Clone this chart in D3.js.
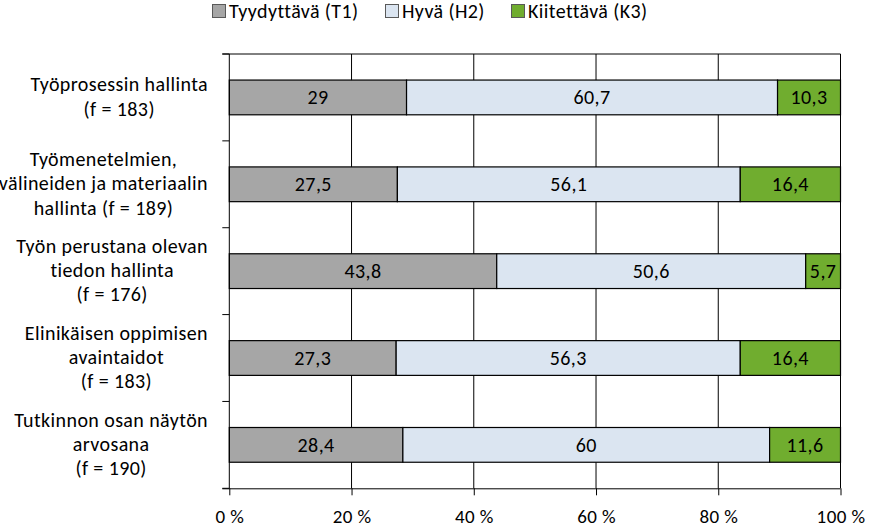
<!DOCTYPE html>
<html><head><meta charset="utf-8">
<script src="https://cdn.jsdelivr.net/npm/d3@7"></script>
<style>
body{margin:0;background:#fff}
svg{display:block}
text{font-family:Carlito, Calibri, Lato, sans-serif;fill:#000;letter-spacing:0.4px}
</style>
</head><body>
<svg id="chart" width="869" height="528"></svg>
<script>
const categories = [
  ["Työprosessin hallinta", "(f = 183)"],
  ["Työmenetelmien,", "välineiden ja materiaalin", "hallinta (f = 189)"],
  ["Työn perustana olevan", "tiedon hallinta", "(f = 176)"],
  ["Elinikäisen oppimisen", "avaintaidot", "(f = 183)"],
  ["Tutkinnon osan näytön", "arvosana", "(f = 190)"]
];
const seriesNames = ["Tyydyttävä (T1)", "Hyvä (H2)", "Kiitettävä (K3)"];
const t1 = [29, 27.5, 43.8, 27.3, 28.4];
const h2 = [60.7, 56.1, 50.6, 56.3, 60];
const k3 = [10.3, 16.4, 5.7, 16.4, 11.6];
const xTicks = [0, 20, 40, 60, 80, 100];
const colors = ["#a6a6a6", "#dbe5f1", "#70ad2f"];

const FS = 20;
const svg = d3.select("#chart");
const plot = {left: 229.3, right: 840.5, top: 54, bottom: 488.3};

const rows = categories.map((c, i) => ({idx: i, s0: t1[i], s1: h2[i], s2: k3[i]}));
const keys = ["s0", "s1", "s2"];
const stacked = d3.stack().keys(keys).offset(d3.stackOffsetExpand)(rows);

const x = d3.scaleLinear().domain([0, 100]).range([plot.left, plot.right]);
const y = d3.scaleBand().domain(d3.range(categories.length)).range([plot.top, plot.bottom])
  .paddingInner(0.6).paddingOuter(0.3);

const fi = d3.formatLocale({decimal: ",", thousands: " ", grouping: [3], currency: ["", " €"]});
const fmt = fi.format("~f");

// gridlines
svg.append("g").selectAll("line").data(xTicks.filter(d => d > 0)).join("line")
  .attr("x1", d => x(d)).attr("x2", d => x(d))
  .attr("y1", plot.top).attr("y2", plot.bottom)
  .attr("stroke", "#000").attr("stroke-width", 1);
// top border
svg.append("line").attr("x1", plot.left - 7).attr("x2", plot.right)
  .attr("y1", plot.top).attr("y2", plot.top).attr("stroke", "#000");

// bars
const layer = svg.append("g").selectAll("g").data(stacked).join("g")
  .attr("fill", (d, i) => colors[i]);
layer.selectAll("rect").data(d => d).join("rect")
  .attr("x", d => x(d[0] * 100))
  .attr("width", d => x(d[1] * 100) - x(d[0] * 100))
  .attr("y", d => y(d.data.idx))
  .attr("height", y.bandwidth())
  .attr("stroke", "#000").attr("stroke-width", 1.2);

// value labels
stacked.forEach((s, si) => {
  svg.append("g").selectAll("text").data(s).join("text")
    .attr("x", d => (x(d[0] * 100) + x(d[1] * 100)) / 2)
    .attr("y", d => y(d.data.idx) + y.bandwidth() / 2)
    .attr("dy", "0.35em")
    .attr("text-anchor", "middle")
    .style("font-size", FS + "px")
    .text(d => fmt(d.data[s.key]));
});

// left axis (ticks at category boundaries)
const yBounds = d3.range(categories.length + 1).map(i => plot.top + i * (plot.bottom - plot.top) / categories.length);
const ax = svg.append("g");
ax.append("line").attr("x1", plot.left).attr("x2", plot.left)
  .attr("y1", plot.top).attr("y2", plot.bottom).attr("stroke", "#000");
ax.selectAll("line.tk").data(yBounds).join("line").attr("class", "tk")
  .attr("x1", plot.left - 7).attr("x2", plot.left)
  .attr("y1", d => d).attr("y2", d => d).attr("stroke", "#000");

// category labels
const lineH = 24.3;
categories.forEach((lines, i) => {
  const g = svg.append("g");
  const cy = y(i) + y.bandwidth() / 2 - 1;
  const n = lines.length;
  const ts = g.selectAll("text").data(lines).join("text")
    .attr("text-anchor", "middle")
    .attr("y", (d, j) => cy + (j - (n - 1) / 2) * lineH)
    .attr("dy", "0.35em")
    .style("font-size", FS + "px")
    .text(d => d);
  let maxW = 0;
  ts.each(function() { maxW = Math.max(maxW, this.getComputedTextLength()); });
  ts.attr("x", 208 - maxW / 2);
});

// bottom axis
const xAxis = d3.axisBottom(x).tickValues(xTicks).tickSize(7).tickPadding(14)
  .tickFormat(d => d + " %");
const gx = svg.append("g").attr("transform", `translate(0,${plot.bottom})`).call(xAxis);
gx.select(".domain").attr("d", `M${plot.left - 7},0.5H${plot.right}`).attr("stroke", "#000");
gx.selectAll(".tick line").attr("stroke", "#000");
gx.selectAll(".tick text").style("font-size", "19px").attr("fill", "#000");
gx.attr("font-family", null).attr("font-size", null);

// legend
const legX = [212, 385, 511];
const lg = svg.append("g");
seriesNames.forEach((name, i) => {
  lg.append("rect").attr("x", legX[i] + 0.5).attr("y", 4.5).attr("width", 13).attr("height", 13)
    .attr("fill", colors[i]).attr("stroke", "#595959").attr("stroke-width", 1);
  lg.append("text").attr("x", legX[i] + 17).attr("y", 18).style("font-size", FS + "px").text(name);
});
</script>
</body></html>
